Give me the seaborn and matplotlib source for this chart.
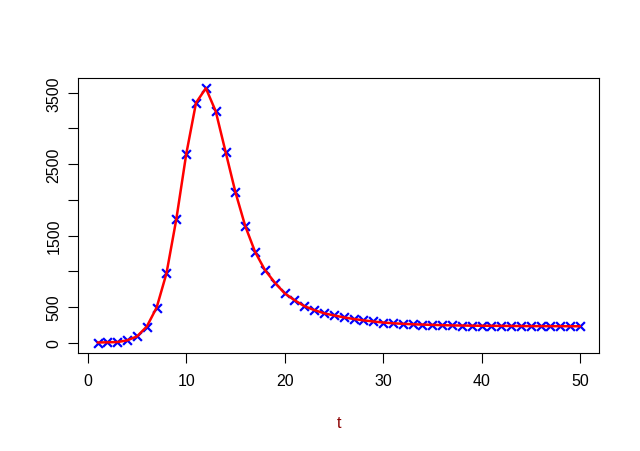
import numpy as np
import pandas as pd
import matplotlib
matplotlib.use("Agg")
import matplotlib.pyplot as plt
import seaborn as sns

t = list(range(1, 51))
cases = [0, 3, 6, 30, 85, 224, 490, 970, 1730, 2636,
         3360, 3565, 3242, 2674, 2108, 1632, 1270, 1016, 840, 690,
         594, 510, 455, 410, 380, 353, 330, 311, 295, 280,
         270, 262, 256, 251, 247, 243, 240, 238, 236, 235,
         234, 233, 232, 231, 230, 230, 229, 229, 228, 228]
xticks = [0, 10, 20, 30, 40, 50]
yticks = [0, 500, 1000, 1500, 2000, 2500, 3000, 3500]
ytick_labels = ["0", "500", "", "1500", "", "2500", "", "3500"]

df = pd.DataFrame({"t": t, "cases": cases})

sns.set_theme(style="ticks")
plt.rcParams["font.family"] = ["Liberation Sans", "DejaVu Sans"]

fig = plt.figure(figsize=(6.4, 4.52), dpi=100)
ax = fig.add_axes([0.1223, 0.2175, 0.9364 - 0.1223, 0.8252 - 0.2175])

sns.scatterplot(data=df, x="t", y="cases", marker="x", color="blue", s=40,
                linewidth=1.6, ax=ax, zorder=2)
sns.lineplot(data=df, x="t", y="cases", color="red", linewidth=1.8, ax=ax,
             zorder=3)

xr = max(t) - min(t)
ax.set_xlim(min(t) - 0.04 * xr, max(t) + 0.04 * xr)
yr = max(cases) - min(cases)
ax.set_ylim(min(cases) - 0.04 * yr, max(cases) + 0.04 * yr)

ax.set_xticks(xticks)
ax.set_xticklabels([str(v) for v in xticks])
ax.set_yticks(yticks)
ax.set_yticklabels(ytick_labels, rotation=90, va="center")

for s in ax.spines.values():
    s.set_visible(True)
    s.set_color("black")
    s.set_linewidth(0.8)

ax.tick_params(axis="both", direction="out", length=6.9, width=0.8,
               color="black", labelsize=11.5, labelcolor="black")
ax.tick_params(axis="x", pad=8)
ax.tick_params(axis="y", pad=5)

ax.set_xlabel("t", color="#8B0000", fontsize=11.5)
ax.xaxis.set_label_coords(0.5, -(423.5 - 353.7) / (353.7 - 79))
ax.xaxis.label.set_va("center")
ax.set_ylabel("")
ax.grid(False)

fig.savefig("out.png", dpi=100)
